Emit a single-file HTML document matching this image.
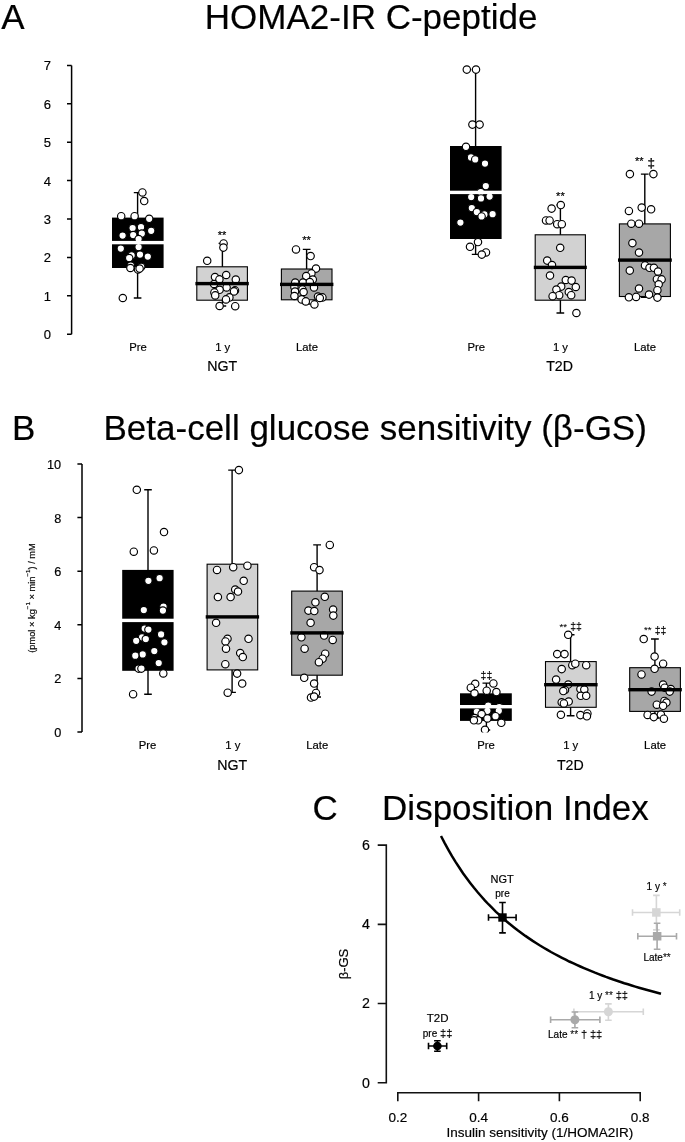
<!DOCTYPE html>
<html lang="en"><head><meta charset="utf-8"><title>Figure</title>
<style>html,body{margin:0;padding:0;background:#fff}svg{display:block}text{font-family:'Liberation Sans', Arial, sans-serif;fill:#000;stroke:#000;stroke-width:0.18px}</style></head><body>
<svg width="685" height="1142" viewBox="0 0 685 1142">
<rect width="685" height="1142" fill="#fff"/>
<g id="panelA">
<text x="1.2" y="29.2" font-size="35" text-anchor="start" >A</text>
<text x="204.8" y="28.9" font-size="35" text-anchor="start" >HOMA2-IR C-peptide</text>
<path d="M71.6 65.4V334.2M67.0 334.2H71.6M67.0 295.8H71.6M67.0 257.4H71.6M67.0 219.0H71.6M67.0 180.6H71.6M67.0 142.2H71.6M67.0 103.8H71.6M67.0 65.4H71.6" stroke="#000" stroke-width="1.5" fill="none"/>
<text x="47.4" y="339.2" font-size="13" text-anchor="middle" >0</text>
<text x="47.4" y="300.8" font-size="13" text-anchor="middle" >1</text>
<text x="47.4" y="262.4" font-size="13" text-anchor="middle" >2</text>
<text x="47.4" y="224.0" font-size="13" text-anchor="middle" >3</text>
<text x="47.4" y="185.6" font-size="13" text-anchor="middle" >4</text>
<text x="47.4" y="147.2" font-size="13" text-anchor="middle" >5</text>
<text x="47.4" y="108.8" font-size="13" text-anchor="middle" >6</text>
<text x="47.4" y="70.4" font-size="13" text-anchor="middle" >7</text>
<path d="M137.6 192.6V298.0M133.8 192.6H141.4M133.8 298.0H141.4" stroke="#000" stroke-width="1.4" fill="none"/><rect x="112.0" y="217.6" width="51.6" height="50.4" fill="#000"/>
<g fill="#fff" stroke="#000" stroke-width="1.15"><circle cx="142.4" cy="192.4" r="3.7"/><circle cx="144.2" cy="201.0" r="3.7"/><circle cx="121.2" cy="216.2" r="3.7"/><circle cx="134.6" cy="216.2" r="3.7"/><circle cx="149.2" cy="218.8" r="3.7"/><circle cx="132.6" cy="228.0" r="3.7"/><circle cx="141.0" cy="227.2" r="3.7"/><circle cx="151.2" cy="230.8" r="3.7"/><circle cx="122.6" cy="235.6" r="3.7"/><circle cx="133.2" cy="235.0" r="3.7"/><circle cx="141.8" cy="233.6" r="3.7"/><circle cx="138.6" cy="239.0" r="3.7"/><circle cx="138.6" cy="247.0" r="3.7"/><circle cx="120.8" cy="248.6" r="3.7"/><circle cx="131.6" cy="255.4" r="3.7"/><circle cx="140.0" cy="254.6" r="3.7"/><circle cx="147.8" cy="256.6" r="3.7"/><circle cx="129.2" cy="258.0" r="3.7"/><circle cx="130.8" cy="265.6" r="3.7"/><circle cx="141.2" cy="266.8" r="3.7"/><circle cx="130.4" cy="268.0" r="3.7"/><circle cx="138.0" cy="269.4" r="3.7"/><circle cx="139.6" cy="268.6" r="3.7"/><circle cx="122.8" cy="298.0" r="3.7"/></g>
<rect x="111.5" y="240.9" width="52.6" height="3.4" fill="#fff"/>
<path d="M222.4 243.4V306.0M218.6 243.4H226.2M218.6 306.0H226.2" stroke="#000" stroke-width="1.4" fill="none"/><rect x="196.8" y="266.8" width="50.6" height="33.4" fill="#d2d2d2" stroke="#000" stroke-width="1.1"/>
<g fill="#fff" stroke="#000" stroke-width="1.15"><circle cx="223.6" cy="243.4" r="3.7"/><circle cx="223.4" cy="247.6" r="3.7"/><circle cx="207.2" cy="260.8" r="3.7"/><circle cx="226.2" cy="275.0" r="3.7"/><circle cx="215.0" cy="277.0" r="3.7"/><circle cx="219.4" cy="279.4" r="3.7"/><circle cx="235.8" cy="279.6" r="3.7"/><circle cx="214.0" cy="284.0" r="3.7"/><circle cx="226.6" cy="287.4" r="3.7"/><circle cx="219.6" cy="289.8" r="3.7"/><circle cx="235.0" cy="290.4" r="3.7"/><circle cx="234.0" cy="291.4" r="3.7"/><circle cx="214.4" cy="292.4" r="3.7"/><circle cx="215.2" cy="295.4" r="3.7"/><circle cx="229.4" cy="297.4" r="3.7"/><circle cx="226.0" cy="299.4" r="3.7"/><circle cx="219.6" cy="306.0" r="3.7"/><circle cx="235.2" cy="306.2" r="3.7"/></g>
<rect x="195.4" y="281.9" width="53.4" height="3.4" fill="#000"/>
<path d="M306.6 249.4V304.0M302.8 249.4H310.5M302.8 304.0H310.5" stroke="#000" stroke-width="1.4" fill="none"/><rect x="281.4" y="269.0" width="50.6" height="30.8" fill="#a7a7a7" stroke="#000" stroke-width="1.1"/>
<g fill="#fff" stroke="#000" stroke-width="1.15"><circle cx="296.0" cy="249.4" r="3.7"/><circle cx="310.6" cy="256.0" r="3.7"/><circle cx="316.0" cy="268.6" r="3.7"/><circle cx="311.4" cy="273.4" r="3.7"/><circle cx="306.2" cy="276.0" r="3.7"/><circle cx="312.8" cy="279.6" r="3.7"/><circle cx="295.2" cy="282.6" r="3.7"/><circle cx="303.0" cy="282.6" r="3.7"/><circle cx="309.8" cy="282.0" r="3.7"/><circle cx="294.4" cy="287.0" r="3.7"/><circle cx="314.0" cy="287.4" r="3.7"/><circle cx="302.4" cy="289.4" r="3.7"/><circle cx="295.0" cy="291.6" r="3.7"/><circle cx="303.6" cy="292.0" r="3.7"/><circle cx="294.4" cy="296.0" r="3.7"/><circle cx="318.0" cy="296.6" r="3.7"/><circle cx="322.4" cy="297.4" r="3.7"/><circle cx="319.8" cy="298.0" r="3.7"/><circle cx="301.6" cy="299.4" r="3.7"/><circle cx="305.8" cy="301.4" r="3.7"/><circle cx="314.4" cy="304.4" r="3.7"/></g>
<rect x="280.0" y="282.7" width="53.4" height="3.4" fill="#000"/>
<path d="M475.6 69.6V254.4M471.8 69.6H479.5M471.8 254.4H479.5" stroke="#000" stroke-width="1.4" fill="none"/><rect x="450.0" y="146.0" width="51.6" height="93.0" fill="#000"/>
<g fill="#fff" stroke="#000" stroke-width="1.15"><circle cx="466.8" cy="69.6" r="3.7"/><circle cx="476.0" cy="69.6" r="3.7"/><circle cx="472.4" cy="124.6" r="3.7"/><circle cx="479.6" cy="124.6" r="3.7"/><circle cx="466.0" cy="146.8" r="3.7"/><circle cx="471.0" cy="157.4" r="3.7"/><circle cx="475.2" cy="159.4" r="3.7"/><circle cx="485.0" cy="163.6" r="3.7"/><circle cx="485.8" cy="186.0" r="3.7"/><circle cx="480.8" cy="192.0" r="3.7"/><circle cx="471.2" cy="197.0" r="3.7"/><circle cx="481.0" cy="198.4" r="3.7"/><circle cx="489.6" cy="196.6" r="3.7"/><circle cx="471.8" cy="208.0" r="3.7"/><circle cx="476.8" cy="212.0" r="3.7"/><circle cx="484.4" cy="214.4" r="3.7"/><circle cx="481.6" cy="216.4" r="3.7"/><circle cx="492.6" cy="214.2" r="3.7"/><circle cx="460.4" cy="222.6" r="3.7"/><circle cx="478.0" cy="242.0" r="3.7"/><circle cx="470.0" cy="246.8" r="3.7"/><circle cx="486.0" cy="252.4" r="3.7"/><circle cx="481.8" cy="254.6" r="3.7"/></g>
<rect x="449.5" y="190.7" width="52.6" height="3.4" fill="#fff"/>
<path d="M560.4 205.0V313.0M556.5 205.0H564.2M556.5 313.0H564.2" stroke="#000" stroke-width="1.4" fill="none"/><rect x="535.2" y="234.8" width="50.2" height="65.4" fill="#d2d2d2" stroke="#000" stroke-width="1.1"/>
<g fill="#fff" stroke="#000" stroke-width="1.15"><circle cx="560.8" cy="205.0" r="3.7"/><circle cx="551.6" cy="208.6" r="3.7"/><circle cx="546.0" cy="220.4" r="3.7"/><circle cx="549.6" cy="220.4" r="3.7"/><circle cx="557.2" cy="224.2" r="3.7"/><circle cx="561.8" cy="224.2" r="3.7"/><circle cx="560.2" cy="247.8" r="3.7"/><circle cx="547.2" cy="260.6" r="3.7"/><circle cx="552.0" cy="265.0" r="3.7"/><circle cx="550.0" cy="275.6" r="3.7"/><circle cx="565.8" cy="280.0" r="3.7"/><circle cx="571.6" cy="280.6" r="3.7"/><circle cx="561.2" cy="286.6" r="3.7"/><circle cx="575.8" cy="287.0" r="3.7"/><circle cx="556.4" cy="289.6" r="3.7"/><circle cx="568.8" cy="292.0" r="3.7"/><circle cx="571.2" cy="295.2" r="3.7"/><circle cx="559.2" cy="295.2" r="3.7"/><circle cx="552.6" cy="296.2" r="3.7"/><circle cx="576.4" cy="313.0" r="3.7"/></g>
<rect x="533.8" y="265.7" width="53.0" height="3.4" fill="#000"/>
<path d="M644.8 174.1V297.3M640.9 174.1H648.6M640.9 297.3H648.6" stroke="#000" stroke-width="1.4" fill="none"/><rect x="619.4" y="223.9" width="51.0" height="72.6" fill="#a7a7a7" stroke="#000" stroke-width="1.1"/>
<g fill="#fff" stroke="#000" stroke-width="1.15"><circle cx="629.9" cy="174.1" r="3.7"/><circle cx="653.4" cy="174.1" r="3.7"/><circle cx="628.9" cy="210.9" r="3.7"/><circle cx="641.7" cy="207.6" r="3.7"/><circle cx="651.1" cy="209.3" r="3.7"/><circle cx="631.3" cy="223.7" r="3.7"/><circle cx="639.0" cy="223.7" r="3.7"/><circle cx="632.4" cy="243.1" r="3.7"/><circle cx="639.0" cy="252.6" r="3.7"/><circle cx="645.0" cy="265.4" r="3.7"/><circle cx="649.5" cy="267.8" r="3.7"/><circle cx="653.9" cy="267.8" r="3.7"/><circle cx="658.0" cy="271.5" r="3.7"/><circle cx="629.8" cy="270.6" r="3.7"/><circle cx="656.9" cy="279.2" r="3.7"/><circle cx="661.6" cy="279.4" r="3.7"/><circle cx="658.7" cy="284.3" r="3.7"/><circle cx="639.0" cy="288.5" r="3.7"/><circle cx="657.4" cy="290.2" r="3.7"/><circle cx="649.0" cy="294.6" r="3.7"/><circle cx="628.9" cy="297.3" r="3.7"/><circle cx="636.1" cy="296.9" r="3.7"/><circle cx="657.4" cy="297.6" r="3.7"/></g>
<rect x="618.0" y="258.4" width="53.8" height="3.4" fill="#000"/>
<text x="138.0" y="350.5" font-size="11.3" text-anchor="middle" >Pre</text>
<text x="222.7" y="350.5" font-size="11.3" text-anchor="middle" >1 y</text>
<text x="307.0" y="350.5" font-size="11.3" text-anchor="middle" >Late</text>
<text x="222.3" y="370.7" font-size="14.2" text-anchor="middle" >NGT</text>
<text x="476.2" y="350.5" font-size="11.3" text-anchor="middle" >Pre</text>
<text x="560.5" y="350.5" font-size="11.3" text-anchor="middle" >1 y</text>
<text x="645.0" y="350.5" font-size="11.3" text-anchor="middle" >Late</text>
<text x="559.6" y="370.7" font-size="14.2" text-anchor="middle" >T2D</text>
<text x="222.0" y="238.5" font-size="11" text-anchor="middle" ><tspan stroke="#000" stroke-width="0.2">**</tspan></text>
<text x="306.6" y="244.0" font-size="11" text-anchor="middle" ><tspan stroke="#000" stroke-width="0.2">**</tspan></text>
<text x="560.4" y="199.5" font-size="11" text-anchor="middle" ><tspan stroke="#000" stroke-width="0.2">**</tspan></text>
<text x="639.3" y="165.3" font-size="11" text-anchor="middle" ><tspan stroke="#000" stroke-width="0.2">**</tspan></text>
<text x="651.3" y="166.5" font-size="12" text-anchor="middle" ><tspan font-size="13.4" stroke="#000" stroke-width="0.25">‡</tspan></text>
</g>
<g id="panelB">
<text x="11.9" y="439.8" font-size="35" text-anchor="start" >B</text>
<text x="103.5" y="440.4" font-size="35" text-anchor="start" >Beta-cell glucose sensitivity (β-GS)</text>
<path d="M82 464.0V732.0M77.4 732.0H82M77.4 678.4H82M77.4 624.8H82M77.4 571.2H82M77.4 517.6H82M77.4 464.0H82" stroke="#000" stroke-width="1.5" fill="none"/>
<text x="61.2" y="737.0" font-size="12.7" text-anchor="end" >0</text>
<text x="61.2" y="683.4" font-size="12.7" text-anchor="end" >2</text>
<text x="61.2" y="629.8" font-size="12.7" text-anchor="end" >4</text>
<text x="61.2" y="576.2" font-size="12.7" text-anchor="end" >6</text>
<text x="61.2" y="522.6" font-size="12.7" text-anchor="end" >8</text>
<text x="61.2" y="469.0" font-size="12.7" text-anchor="end" >10</text>
<text transform="translate(34.6 598) rotate(-90)" font-size="9.3" text-anchor="middle">(pmol × kg<tspan font-size="6.2" dy="-4.3">−1</tspan><tspan dy="4.3"> × min</tspan><tspan font-size="6.2" dy="-4.3">−1</tspan><tspan dy="4.3">) / mM</tspan></text>
<clipPath id="clipB"><rect x="83" y="455" width="602" height="277.4"/></clipPath><g clip-path="url(#clipB)">
<path d="M148.0 489.8V694.2M144.2 489.8H151.8M144.2 694.2H151.8" stroke="#000" stroke-width="1.4" fill="none"/><rect x="122.2" y="569.9" width="51.4" height="100.9" fill="#000"/>
<g fill="#fff" stroke="#000" stroke-width="1.15"><circle cx="136.8" cy="489.8" r="3.7"/><circle cx="164.0" cy="532.0" r="3.7"/><circle cx="133.8" cy="551.7" r="3.7"/><circle cx="153.9" cy="550.4" r="3.7"/><circle cx="148.4" cy="580.8" r="3.7"/><circle cx="159.6" cy="578.2" r="3.7"/><circle cx="143.8" cy="610.1" r="3.7"/><circle cx="163.5" cy="606.6" r="3.7"/><circle cx="162.9" cy="610.6" r="3.7"/><circle cx="144.7" cy="628.5" r="3.7"/><circle cx="148.4" cy="629.6" r="3.7"/><circle cx="161.1" cy="634.4" r="3.7"/><circle cx="142.1" cy="637.3" r="3.7"/><circle cx="145.8" cy="639.0" r="3.7"/><circle cx="136.2" cy="640.8" r="3.7"/><circle cx="164.4" cy="642.3" r="3.7"/><circle cx="154.3" cy="651.1" r="3.7"/><circle cx="142.7" cy="654.4" r="3.7"/><circle cx="135.3" cy="655.7" r="3.7"/><circle cx="158.7" cy="663.1" r="3.7"/><circle cx="138.6" cy="668.6" r="3.7"/><circle cx="141.4" cy="668.6" r="3.7"/><circle cx="163.3" cy="673.4" r="3.7"/><circle cx="133.1" cy="694.2" r="3.7"/></g>
<rect x="121.7" y="618.7" width="52.4" height="3.4" fill="#fff"/>
<path d="M232.1 470.1V692.4M228.2 470.1H235.9M228.2 692.4H235.9" stroke="#000" stroke-width="1.4" fill="none"/><rect x="207.1" y="564.2" width="50.6" height="105.7" fill="#d2d2d2" stroke="#000" stroke-width="1.1"/>
<g fill="#fff" stroke="#000" stroke-width="1.15"><circle cx="238.9" cy="470.1" r="3.7"/><circle cx="217.0" cy="569.9" r="3.7"/><circle cx="233.2" cy="567.2" r="3.7"/><circle cx="247.4" cy="565.7" r="3.7"/><circle cx="243.7" cy="580.8" r="3.7"/><circle cx="235.2" cy="589.6" r="3.7"/><circle cx="238.0" cy="591.5" r="3.7"/><circle cx="217.9" cy="597.0" r="3.7"/><circle cx="230.6" cy="597.0" r="3.7"/><circle cx="216.1" cy="622.8" r="3.7"/><circle cx="227.5" cy="638.8" r="3.7"/><circle cx="225.5" cy="641.4" r="3.7"/><circle cx="248.5" cy="638.8" r="3.7"/><circle cx="226.0" cy="648.7" r="3.7"/><circle cx="240.2" cy="653.0" r="3.7"/><circle cx="242.8" cy="657.0" r="3.7"/><circle cx="225.3" cy="664.2" r="3.7"/><circle cx="237.1" cy="673.6" r="3.7"/><circle cx="242.2" cy="683.5" r="3.7"/><circle cx="227.7" cy="692.7" r="3.7"/></g>
<rect x="205.7" y="615.2" width="53.4" height="3.4" fill="#000"/>
<path d="M317.1 544.9V697.0M313.2 544.9H321.0M313.2 697.0H321.0" stroke="#000" stroke-width="1.4" fill="none"/><rect x="291.7" y="591.1" width="50.6" height="84.1" fill="#a7a7a7" stroke="#000" stroke-width="1.1"/>
<g fill="#fff" stroke="#000" stroke-width="1.15"><circle cx="329.8" cy="544.9" r="3.7"/><circle cx="314.1" cy="567.2" r="3.7"/><circle cx="319.5" cy="570.1" r="3.7"/><circle cx="324.8" cy="596.8" r="3.7"/><circle cx="315.4" cy="602.3" r="3.7"/><circle cx="308.4" cy="610.6" r="3.7"/><circle cx="314.3" cy="611.0" r="3.7"/><circle cx="333.1" cy="609.5" r="3.7"/><circle cx="333.3" cy="615.6" r="3.7"/><circle cx="310.6" cy="622.8" r="3.7"/><circle cx="301.4" cy="637.3" r="3.7"/><circle cx="324.1" cy="635.5" r="3.7"/><circle cx="332.7" cy="639.9" r="3.7"/><circle cx="304.6" cy="648.7" r="3.7"/><circle cx="325.2" cy="653.7" r="3.7"/><circle cx="322.6" cy="658.7" r="3.7"/><circle cx="318.9" cy="662.2" r="3.7"/><circle cx="304.2" cy="677.8" r="3.7"/><circle cx="314.1" cy="683.5" r="3.7"/><circle cx="316.0" cy="692.9" r="3.7"/><circle cx="311.0" cy="697.5" r="3.7"/><circle cx="314.1" cy="696.6" r="3.7"/></g>
<rect x="290.3" y="631.2" width="53.4" height="3.4" fill="#000"/>
<path d="M486.4 683.1V730.0M482.5 683.1H490.2M482.5 730.0H490.2" stroke="#000" stroke-width="1.4" fill="none"/><rect x="460.0" y="693.3" width="51.8" height="27.6" fill="#000"/>
<g fill="#fff" stroke="#000" stroke-width="1.15"><circle cx="475.2" cy="683.8" r="3.7"/><circle cx="470.8" cy="687.7" r="3.7"/><circle cx="493.4" cy="683.4" r="3.7"/><circle cx="486.7" cy="690.7" r="3.7"/><circle cx="474.5" cy="693.3" r="3.7"/><circle cx="496.4" cy="692.1" r="3.7"/><circle cx="488.2" cy="705.7" r="3.7"/><circle cx="499.3" cy="707.0" r="3.7"/><circle cx="476.8" cy="711.8" r="3.7"/><circle cx="487.4" cy="710.8" r="3.7"/><circle cx="498.8" cy="710.8" r="3.7"/><circle cx="495.5" cy="716.2" r="3.7"/><circle cx="481.6" cy="714.0" r="3.7"/><circle cx="474.7" cy="718.1" r="3.7"/><circle cx="487.4" cy="718.4" r="3.7"/><circle cx="478.2" cy="720.3" r="3.7"/><circle cx="473.9" cy="720.3" r="3.7"/><circle cx="501.3" cy="722.8" r="3.7"/><circle cx="485.0" cy="729.8" r="3.7"/></g>
<rect x="459.5" y="705.0" width="52.8" height="3.4" fill="#fff"/>
<path d="M570.6 634.8V715.8M566.8 634.8H574.5M566.8 715.8H574.5" stroke="#000" stroke-width="1.4" fill="none"/><rect x="545.5" y="661.6" width="50.7" height="45.7" fill="#d2d2d2" stroke="#000" stroke-width="1.1"/>
<g fill="#fff" stroke="#000" stroke-width="1.15"><circle cx="568.2" cy="634.8" r="3.7"/><circle cx="557.2" cy="654.1" r="3.7"/><circle cx="564.5" cy="654.1" r="3.7"/><circle cx="572.3" cy="665.2" r="3.7"/><circle cx="575.3" cy="663.7" r="3.7"/><circle cx="586.2" cy="665.2" r="3.7"/><circle cx="561.7" cy="669.1" r="3.7"/><circle cx="556.1" cy="679.5" r="3.7"/><circle cx="568.2" cy="684.5" r="3.7"/><circle cx="565.0" cy="690.0" r="3.7"/><circle cx="563.3" cy="691.0" r="3.7"/><circle cx="580.4" cy="689.1" r="3.7"/><circle cx="584.3" cy="689.6" r="3.7"/><circle cx="580.8" cy="695.8" r="3.7"/><circle cx="586.2" cy="695.8" r="3.7"/><circle cx="568.7" cy="701.5" r="3.7"/><circle cx="561.7" cy="702.3" r="3.7"/><circle cx="563.9" cy="703.4" r="3.7"/><circle cx="560.9" cy="714.8" r="3.7"/><circle cx="580.4" cy="715.1" r="3.7"/><circle cx="587.4" cy="713.4" r="3.7"/><circle cx="586.9" cy="716.3" r="3.7"/></g>
<rect x="544.1" y="683.0" width="53.5" height="3.4" fill="#000"/>
<path d="M654.9 639.0V718.4M651.0 639.0H658.8M651.0 718.4H658.8" stroke="#000" stroke-width="1.4" fill="none"/><rect x="629.7" y="667.7" width="50.7" height="43.7" fill="#a7a7a7" stroke="#000" stroke-width="1.1"/>
<g fill="#fff" stroke="#000" stroke-width="1.15"><circle cx="643.7" cy="639.0" r="3.7"/><circle cx="654.6" cy="656.5" r="3.7"/><circle cx="663.1" cy="663.7" r="3.7"/><circle cx="654.6" cy="668.8" r="3.7"/><circle cx="641.5" cy="674.4" r="3.7"/><circle cx="663.1" cy="684.5" r="3.7"/><circle cx="664.7" cy="687.7" r="3.7"/><circle cx="670.8" cy="689.1" r="3.7"/><circle cx="669.7" cy="691.6" r="3.7"/><circle cx="651.6" cy="691.6" r="3.7"/><circle cx="664.4" cy="700.9" r="3.7"/><circle cx="666.4" cy="702.5" r="3.7"/><circle cx="656.8" cy="704.7" r="3.7"/><circle cx="663.1" cy="705.8" r="3.7"/><circle cx="647.6" cy="714.9" r="3.7"/><circle cx="653.8" cy="717.1" r="3.7"/><circle cx="660.9" cy="714.6" r="3.7"/><circle cx="663.9" cy="718.7" r="3.7"/></g>
<rect x="628.3" y="688.0" width="53.5" height="3.4" fill="#000"/>
</g>
<text x="147.5" y="749.4" font-size="11.3" text-anchor="middle" >Pre</text>
<text x="232.8" y="749.4" font-size="11.3" text-anchor="middle" >1 y</text>
<text x="317.3" y="749.4" font-size="11.3" text-anchor="middle" >Late</text>
<text x="232.3" y="769.6" font-size="14.2" text-anchor="middle" >NGT</text>
<text x="486.0" y="749.4" font-size="11.3" text-anchor="middle" >Pre</text>
<text x="570.7" y="749.4" font-size="11.3" text-anchor="middle" >1 y</text>
<text x="655.1" y="749.4" font-size="11.3" text-anchor="middle" >Late</text>
<text x="570.3" y="769.6" font-size="14.2" text-anchor="middle" >T2D</text>
<text x="486.4" y="678.5" font-size="8.6" text-anchor="middle" ><tspan font-size="10.5" stroke="#000" stroke-width="0.12">‡‡</tspan></text>
<text x="563.3" y="629.6" font-size="9.6" text-anchor="middle" ><tspan stroke="#000" stroke-width="0.08">**</tspan></text>
<text x="576.0" y="630.0" font-size="8.6" text-anchor="middle" ><tspan font-size="10.5" stroke="#000" stroke-width="0.12">‡‡</tspan></text>
<text x="647.8" y="633.3" font-size="9.6" text-anchor="middle" ><tspan stroke="#000" stroke-width="0.08">**</tspan></text>
<text x="660.6" y="633.9" font-size="8.6" text-anchor="middle" ><tspan font-size="10.5" stroke="#000" stroke-width="0.12">‡‡</tspan></text>
</g>
<g id="panelC">
<text x="312.4" y="819.8" font-size="35" text-anchor="start" >C</text>
<text x="382.1" y="819.8" font-size="35" text-anchor="start" >Disposition Index</text>
<path d="M386.3 845.1V1082.8M378.5 1082.8H386.3M378.5 1003.5H386.3M378.5 924.4H386.3M378.5 845.1H386.3" stroke="#111" stroke-width="1.6" fill="none" stroke-linecap="square"/>
<text x="370.0" y="1087.7" font-size="14.2" text-anchor="end" >0</text>
<text x="370.0" y="1008.4" font-size="14.2" text-anchor="end" >2</text>
<text x="370.0" y="929.2" font-size="14.2" text-anchor="end" >4</text>
<text x="370.0" y="850.0" font-size="14.2" text-anchor="end" >6</text>
<path d="M397.8 1092.7H640.2M397.8 1092.7V1100.5M478.6 1092.7V1100.5M559.4 1092.7V1100.5M640.2 1092.7V1100.5" stroke="#111" stroke-width="1.6" fill="none" stroke-linecap="square"/>
<text x="397.8" y="1121.6" font-size="13.5" text-anchor="middle" >0.2</text>
<text x="478.6" y="1121.6" font-size="13.5" text-anchor="middle" >0.4</text>
<text x="559.4" y="1121.6" font-size="13.5" text-anchor="middle" >0.6</text>
<text x="640.2" y="1121.6" font-size="13.5" text-anchor="middle" >0.8</text>
<text x="539.8" y="1137.2" font-size="13.5" text-anchor="middle" >Insulin sensitivity (1/HOMA2IR)</text>
<text transform="translate(347.7 964) rotate(-90)" font-size="13" text-anchor="middle">β-GS</text>
<path d="M441.0 836.0L444.7 843.1L448.4 849.8L452.0 856.1L455.7 862.1L459.4 867.8L463.0 873.2L466.7 878.3L470.4 883.2L474.0 887.8L477.7 892.3L481.4 896.5L485.0 900.6L488.7 904.5L492.4 908.2L496.0 911.8L499.7 915.2L503.4 918.5L507.0 921.7L510.7 924.7L514.4 927.7L518.0 930.5L521.7 933.2L525.4 935.9L529.0 938.4L532.7 940.9L536.4 943.2L540.0 945.5L543.7 947.7L547.4 949.9L551.0 952.0L554.7 954.0L558.3 955.9L562.0 957.8L565.7 959.7L569.3 961.5L573.0 963.2L576.7 964.9L580.3 966.5L584.0 968.1L587.7 969.7L591.3 971.2L595.0 972.7L598.7 974.1L602.3 975.5L606.0 976.9L609.7 978.2L613.3 979.5L617.0 980.7L620.7 982.0L624.3 983.2L628.0 984.3L631.7 985.5L635.3 986.6L639.0 987.7L642.7 988.8L646.3 989.8L650.0 990.8L653.7 991.8L657.3 992.8L661.0 993.8" stroke="#000" stroke-width="2.5" fill="none" stroke-linecap="butt"/>
<path d="M632.5 912.5H679.7M632.5 909.2V915.8M679.7 909.2V915.8M656.4 895.4V929.9M653.1 895.4H659.7M653.1 929.9H659.7" stroke="#d6d6d6" stroke-width="1.6" fill="none"/><rect x="652.1" y="908.2" width="8.5" height="8.5" fill="#d6d6d6"/>
<path d="M637.8 936.3H676.5M637.8 933.0V939.6M676.5 933.0V939.6M657.1 923.3V949.3M653.8 923.3H660.4M653.8 949.3H660.4" stroke="#a9a9a9" stroke-width="1.6" fill="none"/><rect x="652.9" y="932.0" width="8.5" height="8.5" fill="#a9a9a9"/>
<path d="M573.9 1011.8H643.3M573.9 1008.5V1015.1M643.3 1008.5V1015.1M608.4 1003.9V1020.2M605.1 1003.9H611.7M605.1 1020.2H611.7" stroke="#d6d6d6" stroke-width="1.6" fill="none"/><circle cx="608.4" cy="1011.8" r="4.5" fill="#d6d6d6"/>
<path d="M550.6 1019.8H599.9M550.6 1016.5V1023.1M599.9 1016.5V1023.1M574.9 1012.0V1027.7M571.6 1012.0H578.2M571.6 1027.7H578.2" stroke="#a9a9a9" stroke-width="1.6" fill="none"/><circle cx="574.9" cy="1019.8" r="4.5" fill="#a9a9a9"/>
<path d="M488.5 917.5H516.1M488.5 914.2V920.8M516.1 914.2V920.8M502.5 902.5V932.9M499.2 902.5H505.8M499.2 932.9H505.8" stroke="#000" stroke-width="1.6" fill="none"/><rect x="498.3" y="913.3" width="8.4" height="8.4" fill="#000"/>
<path d="M428.5 1046.0H446.7M428.5 1042.7V1049.3M446.7 1042.7V1049.3M437.4 1040.8V1051.2M434.1 1040.8H440.7M434.1 1051.2H440.7" stroke="#000" stroke-width="1.6" fill="none"/><circle cx="437.4" cy="1046.0" r="4.3" fill="#000"/>
<text x="502.2" y="883.1" font-size="11" text-anchor="middle" >NGT</text>
<text x="502.5" y="896.7" font-size="10" text-anchor="middle" >pre</text>
<text x="437.6" y="1021.9" font-size="11.5" text-anchor="middle" >T2D</text>
<text x="437.6" y="1036.6" font-size="10" text-anchor="middle" >pre <tspan font-size="11.2" stroke="#000" stroke-width="0.12">‡‡</tspan></text>
<text x="656.6" y="889.6" font-size="10" text-anchor="middle" >1 y <tspan stroke="#000" stroke-width="0.08">*</tspan></text>
<text x="657.1" y="960.6" font-size="10" text-anchor="middle" >Late<tspan stroke="#000" stroke-width="0.08">**</tspan></text>
<text x="608.5" y="999.1" font-size="10" text-anchor="middle" >1 y <tspan stroke="#000" stroke-width="0.08">**</tspan> <tspan font-size="11.2" stroke="#000" stroke-width="0.12">‡‡</tspan></text>
<text x="575.2" y="1038.4" font-size="10" text-anchor="middle" >Late <tspan stroke="#000" stroke-width="0.08">**</tspan> <tspan font-size="11.2" stroke="#000" stroke-width="0.12">†</tspan> <tspan font-size="11.2" stroke="#000" stroke-width="0.12">‡‡</tspan></text>
</g>
</svg></body></html>
